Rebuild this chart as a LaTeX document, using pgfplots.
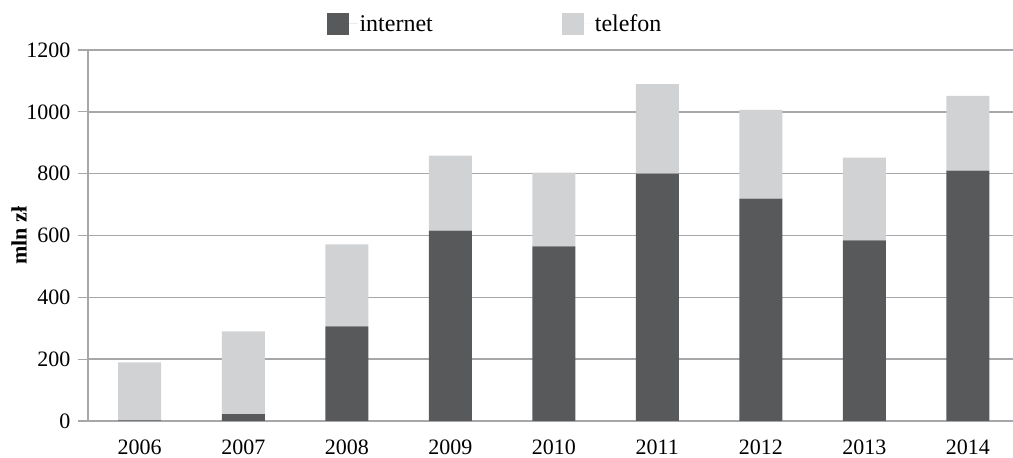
\documentclass[border=0pt]{standalone}
\usepackage{pgfplots}
\pgfplotsset{compat=1.18}
\usepackage{fontspec}
\setmainfont{Liberation Serif}
\definecolor{cdark}{HTML}{58595B}
\definecolor{clight}{HTML}{D1D2D4}
\definecolor{cgrid}{HTML}{A7A7A9}
\begin{document}
\begin{tikzpicture}
\useasboundingbox (-88pt,-37pt) rectangle (925pt,421pt);
\begin{axis}[
  scale only axis,
  width=925pt, height=371pt,
  at={(0pt,0pt)}, anchor=south west,
  ybar stacked,
  bar width=43pt,
  xmin=-0.5, xmax=8.437,
  ymin=0, ymax=1200,
  ytick distance=200,
  xtick={0,...,8},
  xticklabels={2006,2007,2008,2009,2010,2011,2012,2013,2014},
  x tick style={draw=none},
  extra x ticks={-0.5,0.5,1.5,2.5,3.5,4.5,5.5,6.5,7.5},
  extra x tick labels={},
  extra x tick style={tick style={draw=cgrid, line width=1.2pt}, major tick length=12pt, tick align=outside},
  axis lines*=left,
  axis line style={draw=cgrid, line width=1.5pt},
  y axis line style={draw=cgrid, line width=1.5pt},
  ymajorgrids,
  grid style={draw=cgrid, line width=1.5pt},
  y tick style={draw=cgrid, line width=1.2pt},
  tick align=outside,
  major tick length=10pt,
  yticklabel style={font=\fontsize{22}{26}\selectfont, xshift=-4pt},
  xticklabel style={font=\fontsize{22}{26}\selectfont, yshift=-5pt},
  /pgf/number format/assume math mode=true,
  /pgf/number format/1000 sep={},
  ylabel={\textbf{mln zł}},
  every axis y label/.style={at={(ticklabel cs:0.5)}, rotate=90, anchor=near ticklabel, yshift=-7pt, font=\fontsize{22}{26}\selectfont},
  legend style={at={(407pt,397pt)}, anchor=center, draw=none, fill=none,
     legend columns=2, font=\fontsize{24}{28}\selectfont,
     /tikz/every even column/.append style={column sep=127pt}},
  legend image code/.code={\fill[#1] (0pt,-11pt) rectangle (22pt,11pt); \path (0pt,0pt) -- (31pt,0pt);},
  clip=false,
]
\addplot[fill=cdark, draw=none] coordinates {(0,2) (1,22) (2,306) (3,616) (4,565) (5,800) (6,719) (7,584) (8,810)};
\addplot[fill=clight, draw=none] coordinates {(0,188) (1,268) (2,265) (3,242) (4,238) (5,290) (6,287) (7,268) (8,242)};
\legend{internet,telefon}
\end{axis}
\end{tikzpicture}
\end{document}
